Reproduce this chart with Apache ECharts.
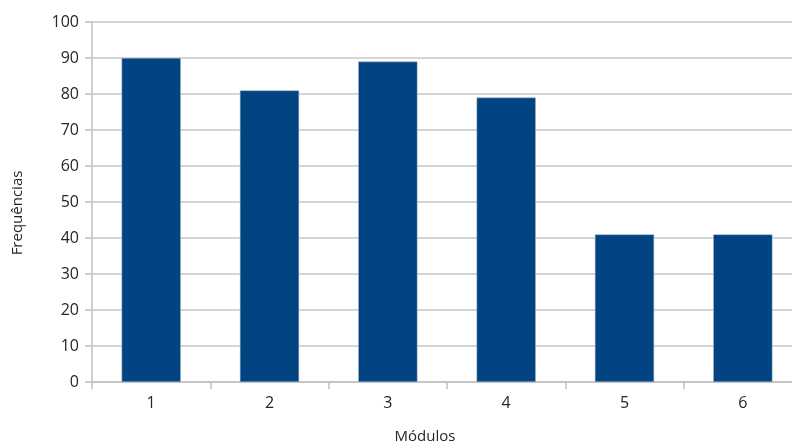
<!DOCTYPE html>
<html><head><meta charset="utf-8">
<script src="https://cdn.jsdelivr.net/npm/echarts@6/dist/echarts.min.js"></script>
<style>html,body{margin:0;padding:0;background:#fff}#c{width:792px;height:443px}</style>
</head><body><div id="c"></div>
<script>
const categories = ['1','2','3','4','5','6'];
const values = [90, 81, 89, 79, 41, 41];
const yTicks = {min:0, max:100, interval:10};
const xTitle = 'Módulos';
const yTitle = 'Frequências';

const chart = echarts.init(document.getElementById('c'));
const font = '"Open Sans", "Noto Sans", sans-serif';
const txt = '#262626';
chart.setOption({
  animation:false,
  grid:{left:92, top:22, width:710, height:360, containLabel:false, outerBoundsMode:'none'},
  xAxis:{type:'category', data:categories,
    axisLine:{lineStyle:{color:'#c0c0c0', width:1.5}},
    axisTick:{show:true, length:7, lineStyle:{color:'#c0c0c0', width:1.5}},
    axisLabel:{color:txt, fontFamily:font, fontSize:16, margin:13}},
  yAxis:{type:'value', min:yTicks.min, max:yTicks.max, interval:yTicks.interval,
    axisLine:{show:true, lineStyle:{color:'#c0c0c0', width:1.5}},
    axisTick:{show:true, length:7, lineStyle:{color:'#c0c0c0', width:1.5}},
    splitLine:{lineStyle:{color:'#c8c8c8', width:1.5}},
    axisLabel:{color:txt, fontFamily:font, fontSize:16, margin:13}},
  graphic:[
    {type:'text', x:425, y:437, style:{text:xTitle, fill:txt, font:'15px '+font, align:'center', verticalAlign:'middle'}},
    {type:'text', x:18, y:213, rotation:Math.PI/2, style:{text:yTitle, fill:txt, font:'15px '+font, align:'center', verticalAlign:'middle'}}
  ],
  series:[{type:'bar', data:values, barWidth:'50%',
    itemStyle:{color:'#024381', borderColor:'#9fb6cf', borderWidth:0.5}}]
});
</script></body></html>
